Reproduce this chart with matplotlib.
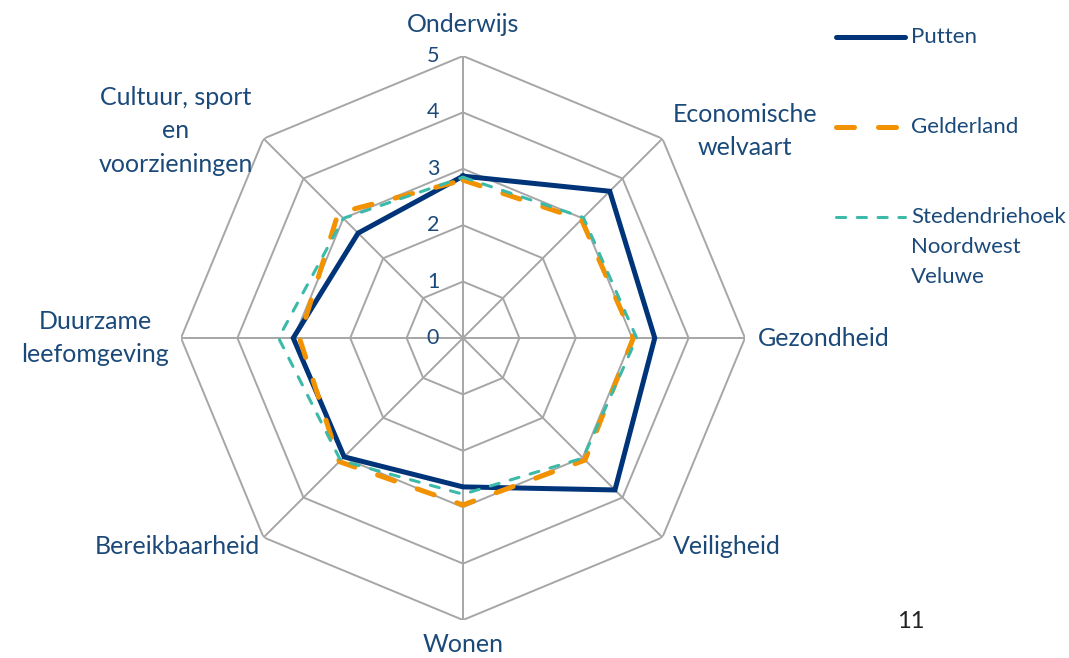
import numpy as np
import matplotlib
matplotlib.use("Agg")
import matplotlib.pyplot as plt
from matplotlib.lines import Line2D
import matplotlib.transforms as mtrans

categories = ["Onderwijs", "Economische welvaart", "Gezondheid", "Veiligheid",
              "Wonen", "Bereikbaarheid", "Duurzame leefomgeving",
              "Cultuur, sport en voorzieningen"]
putten = [2.87, 3.68, 3.40, 3.81, 2.64, 2.98, 3.01, 2.63]
gelderland = [2.80, 2.97, 3.02, 3.06, 2.96, 3.10, 2.90, 3.13]
stedendriehoek = [2.85, 3.02, 3.08, 3.01, 2.77, 3.07, 3.27, 3.00]
r_ticks = [0, 1, 2, 3, 4, 5]
series_names = ["Putten", "Gelderland", "Stedendriehoek\nNoordwest\nVeluwe"]

W, H = 1069, 658
plt.rcParams['font.family'] = ['Lato', 'DejaVu Sans']
TXT = '#1B4A7A'
NAVY = '#003479'
ORANGE = '#F39200'
TEAL = '#3CBAA9'
GRID = '#A6A6A6'

fig = plt.figure(figsize=(W/100, H/100), dpi=100)
cx, cy, R = 463, 338, 282
ax = fig.add_axes([(cx-R)/W, (H-cy-R)/H, 2*R/W, 2*R/H], projection='polar')
ax.set_theta_zero_location('N')
ax.set_theta_direction(-1)
ax.set_ylim(0, 5)
ax.axis('off')

n = len(categories)
angles = np.arange(n) * 2*np.pi/n
ang_c = np.append(angles, angles[0])

for r in r_ticks[1:]:
    ax.plot(ang_c, [r]*(n+1), color=GRID, lw=1.4, zorder=1)
for a in angles:
    ax.plot([a, a], [0, r_ticks[-1]], color=GRID, lw=1.4, zorder=1)

off = mtrans.offset_copy(ax.transData, fig=fig, x=-30, y=0, units='dots')
for r in r_ticks:
    ax.text(0, r, str(r), transform=off, ha='center', va='center',
            fontsize=15.5, color=TXT, zorder=5)

def close(v):
    return np.append(v, v[0])

NAVY_ST = dict(color=NAVY, lw=3.6)
OR_ST = dict(color=ORANGE, lw=3.6, dash_capstyle='round', dashes=(3.6, 4.8))
TE_ST = dict(color=TEAL, lw=2.2, dash_capstyle='round', dashes=(3.0, 3.8))

ax.plot(ang_c, close(putten), zorder=3, solid_joinstyle='miter', **NAVY_ST)
ax.plot(ang_c, close(gelderland), zorder=4, **OR_ST)
ax.plot(ang_c, close(stedendriehoek), zorder=5, **TE_ST)

label_pos = [(463, 25), (745, 131), (824, 338), (727, 546),
             (463, 645), (177, 546), (95, 338), (176, 131)]
label_txt = ["Onderwijs", "Economische\nwelvaart", "Gezondheid", "Veiligheid",
             "Wonen", "Bereikbaarheid", "Duurzame\nleefomgeving",
             "Cultuur, sport\nen\nvoorzieningen"]
for (x, y), t in zip(label_pos, label_txt):
    fig.text(x/W, 1-y/H, t, ha='center', va='center', fontsize=18, color=TXT,
             linespacing=1.56)

# legend
leg_y = [37, 127, 217]
styles = [dict(NAVY_ST, solid_capstyle='round'), OR_ST, TE_ST]
for y, st, name in zip(leg_y, styles, series_names):
    ln = Line2D([836/W, 905/W], [1-y/H, 1-y/H], transform=fig.transFigure, **st)
    fig.add_artist(ln)
    if '\n' in name:
        fig.text(911/W, 1-247/H, name, ha='left', va='center',
                 fontsize=16, color=TXT, linespacing=1.6)
    else:
        fig.text(911/W, 1-y/H, name, ha='left', va='center',
                 fontsize=16, color=TXT)

fig.text(911/W, 1-622/H, "11", ha='center', va='center', fontsize=17,
         color='#222222')

fig.savefig('out.png', dpi=100)
